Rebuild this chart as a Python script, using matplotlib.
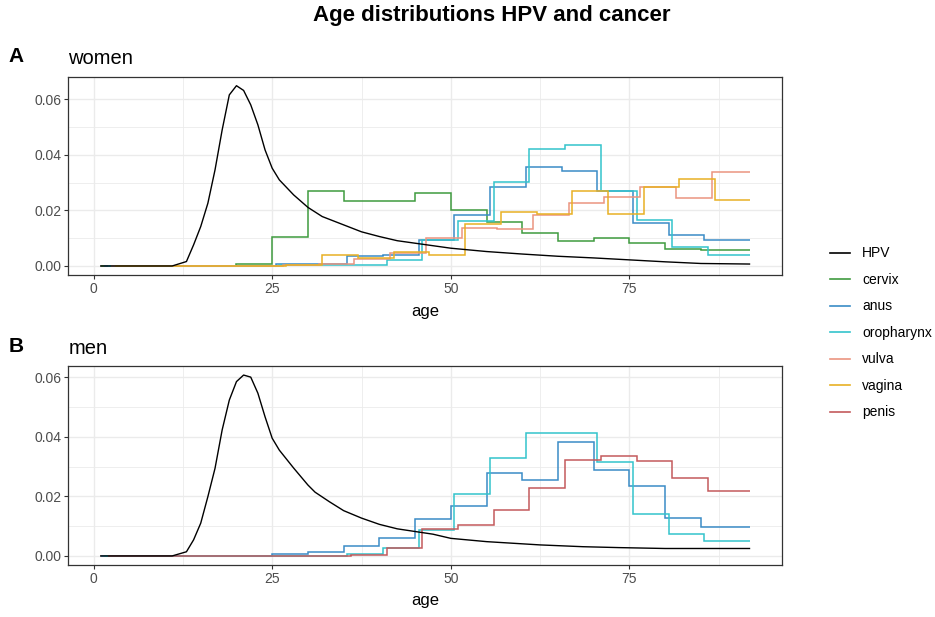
import numpy as np
import matplotlib
matplotlib.use("Agg")
import matplotlib.pyplot as plt
from matplotlib.ticker import MultipleLocator, FormatStrFormatter
from matplotlib.lines import Line2D

plt.rcParams['font.family'] = ['Liberation Sans', 'DejaVu Sans']

# ---------------------------------------------------------------------------
# data
# HPV age density (line), women and men
hpv_age_w = [1, 11, 13, 14, 15, 16, 17, 18, 19, 20, 21, 22, 23, 24, 25, 26,
             28, 30, 32, 35, 37.5, 40, 42.5, 45, 47.5, 50, 55, 60, 65, 70,
             75, 80, 85, 91.8]
hpv_w = [0, 0, 0.0016, 0.0076, 0.0142, 0.0226, 0.0346, 0.049, 0.0616, 0.0649,
         0.0632, 0.058, 0.0508, 0.0418, 0.0352, 0.031, 0.0256, 0.0211,
         0.0178, 0.0148, 0.0123, 0.0106, 0.0091, 0.0082, 0.0073, 0.0064,
         0.0052, 0.0043, 0.0035, 0.0029, 0.0022, 0.0015, 0.0009, 0.0007]

hpv_age_m = [1, 11, 13, 14, 15, 16, 17, 18, 19, 20, 21, 22, 23, 24, 25, 26,
             28, 30, 31, 33, 35, 37.5, 40, 42.5, 45, 47.5, 50, 55, 62.5,
             68.5, 73.5, 80, 91.8]
hpv_m = [0, 0, 0.0014, 0.0054, 0.011, 0.0199, 0.0294, 0.0423, 0.0523, 0.0585,
         0.0607, 0.06, 0.0546, 0.0467, 0.0395, 0.0355, 0.0295, 0.0238,
         0.0214, 0.0182, 0.0152, 0.0127, 0.0106, 0.0091, 0.0082, 0.0073,
         0.0059, 0.0048, 0.0037, 0.0031, 0.0028, 0.0025, 0.0025]

# cancer age distributions in 5 year groups (0-4, 5-9, ..., 85+)
age_groups = [0, 5, 10, 15, 20, 25, 30, 35, 40, 45, 50, 55, 60, 65, 70, 75,
              80, 85]
last_age = 91.8

cervix_w = [0, 0, 0, 0, 0.0007, 0.0103, 0.0271, 0.0233, 0.0233, 0.0262,
            0.0203, 0.0160, 0.0120, 0.0091, 0.0100, 0.0082, 0.0062, 0.0058]
anus_w = [0, 0, 0, 0, 0, 0.0007, 0.0006, 0.0036, 0.0040, 0.0095, 0.0184,
          0.0284, 0.0355, 0.0343, 0.0270, 0.0153, 0.0112, 0.0093]
oro_w = [0, 0, 0, 0, 0, 0.0003, 0.0003, 0.0002, 0.0022, 0.0094, 0.0162,
         0.0304, 0.0420, 0.0437, 0.0270, 0.0166, 0.0067, 0.0041]
vulva_w = [0, 0, 0, 0, 0, 0.0003, 0.0007, 0.0026, 0.0045, 0.0102, 0.0136,
           0.0132, 0.0184, 0.0226, 0.0247, 0.0283, 0.0244, 0.0340]
vagina_w = [0, 0, 0, 0, 0, 0.0002, 0.0041, 0.0027, 0.0049, 0.0040, 0.0152,
            0.0196, 0.0187, 0.0270, 0.0186, 0.0286, 0.0312, 0.0237]

anus_m = [0, 0, 0, 0, 0, 0.0005, 0.0012, 0.0035, 0.0059, 0.0124, 0.0169,
          0.0277, 0.0254, 0.0383, 0.0287, 0.0234, 0.0128, 0.0097]
oro_m = [0, 0, 0, 0, 0, 0, 0, 0.0005, 0.0026, 0.0088, 0.0208, 0.0330,
         0.0412, 0.0412, 0.0315, 0.0141, 0.0073, 0.0049]
penis_m = [0, 0, 0, 0, 0, 0, 0, 0.0003, 0.0027, 0.0090, 0.0104, 0.0154,
           0.0227, 0.0321, 0.0335, 0.0319, 0.0261, 0.0217]

colors = {'HPV': 'black', 'cervix': '#3f9b3f', 'anus': '#3a8cc6',
          'oropharynx': '#33c3cc', 'vulva': '#eb9580', 'vagina': '#e8b024',
          'penis': '#c45a5c'}


def stair(ax, values, offset, name):
    """
    Draws one cancer distribution as a step line. Each series is shifted by a
    small offset so the steps do not overlap.
    """
    edges = np.array(age_groups + [last_age], dtype=float) + offset
    edges[0] = 1 + offset
    edges[-1] = last_age
    ax.stairs(values, edges, baseline=None, color=colors[name], lw=1.1)


def panel(ax, hpv_age, hpv, series):
    """
    One panel in theme_bw look: HPV line plus the cancer steps.
    """
    ax.plot(hpv_age, hpv, color=colors['HPV'], lw=1.0)
    for i, (name, vals) in enumerate(series):
        stair(ax, vals, 0.5 * i, name)
    ax.margins(x=0.05, y=0.05)
    ax.xaxis.set_major_locator(MultipleLocator(25))
    ax.xaxis.set_minor_locator(MultipleLocator(12.5))
    ax.yaxis.set_major_locator(MultipleLocator(0.02))
    ax.yaxis.set_minor_locator(MultipleLocator(0.01))
    ax.yaxis.set_major_formatter(FormatStrFormatter('%.2f'))
    ax.grid(which='major', color='#ebebeb', lw=1.0)
    ax.grid(which='minor', color='#ebebeb', lw=0.6)
    ax.set_axisbelow(True)
    ax.tick_params(which='major', length=3, width=0.8, color='#333333',
                   labelcolor='#4d4d4d', labelsize=10, pad=2)
    ax.tick_params(which='minor', length=0)
    for s in ax.spines.values():
        s.set_color('#333333')
        s.set_linewidth(0.9)


fig = plt.figure(figsize=(9.35, 6.17), dpi=100)
ax1 = fig.add_axes([0.073, 0.5543, 0.7633, 0.3214])
ax2 = fig.add_axes([0.073, 0.0843, 0.7633, 0.3225])

panel(ax1, hpv_age_w, hpv_w, [('cervix', cervix_w), ('anus', anus_w),
                              ('oropharynx', oro_w), ('vulva', vulva_w),
                              ('vagina', vagina_w)])
panel(ax2, hpv_age_m, hpv_m, [('anus', anus_m), ('oropharynx', oro_m),
                              ('penis', penis_m)])

fig.text(0.5257, 0.966, 'Age distributions HPV and cancer', ha='center',
         va='baseline', fontsize=16, fontweight='bold')
fig.text(0.009, 0.900, 'A', fontsize=15, fontweight='bold', va='baseline')
fig.text(0.009, 0.430, 'B', fontsize=15, fontweight='bold', va='baseline')
fig.text(0.073, 0.8958, 'women', fontsize=14.5, va='baseline')
fig.text(0.073, 0.4262, 'men', fontsize=14.5, va='baseline')
fig.text(0.4545, 0.4878, 'age', fontsize=12, ha='center', va='baseline')
fig.text(0.4545, 0.019, 'age', fontsize=12, ha='center', va='baseline')

handles = [Line2D([], [], color=colors[k], lw=1.2) for k in colors]
fig.legend(handles, list(colors), loc='center left',
           bbox_to_anchor=(0.888, 0.4603), frameon=False, fontsize=10,
           handlelength=1.45, handletextpad=0.85, labelspacing=0.9,
           borderpad=0, borderaxespad=0)

fig.savefig('out.png', dpi=100)
